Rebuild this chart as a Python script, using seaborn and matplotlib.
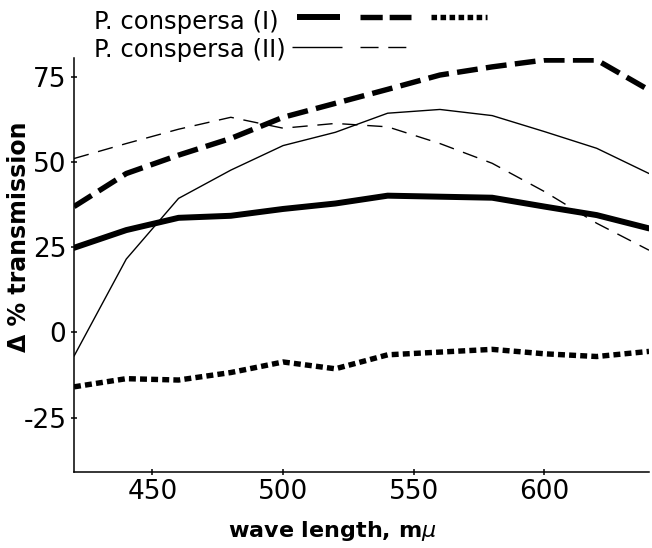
import numpy as np
import pandas as pd
import matplotlib
matplotlib.use("Agg")
import matplotlib.pyplot as plt
from matplotlib.lines import Line2D
import seaborn as sns

# wave length (m-mu) and delta % transmission
wave = [420, 440, 460, 480, 500, 520, 540, 560, 580, 600, 620, 640]
p1_solid = [24.8, 30.0, 33.6, 34.2, 36.2, 37.8, 40.1, 39.8, 39.5, 36.9, 34.4, 30.5]
p1_dashed = [36.9, 46.6, 52.0, 56.9, 63.1, 67.2, 71.3, 75.5, 77.9, 79.9, 79.9, 71.1]
p1_dotted = [-16.0, -13.6, -14.0, -11.8, -8.7, -10.7, -6.6, -5.8, -5.0, -6.3, -7.1, -5.6]
p2_solid = [-7.0, 21.5, 39.3, 47.6, 54.8, 58.7, 64.3, 65.4, 63.6, 58.9, 54.0, 46.6]
p2_dashed = [51.0, 55.4, 59.6, 63.1, 59.9, 61.3, 60.3, 55.4, 49.6, 41.3, 32.0, 24.1]

sns.set_style("ticks", {"axes.edgecolor": "black", "xtick.color": "black",
                        "ytick.color": "black", "text.color": "black",
                        "axes.labelcolor": "black"})
plt.rcParams["font.family"] = ["DejaVu Sans"]
plt.rcParams["lines.scale_dashes"] = False

W, H = 652, 548
fig = plt.figure(figsize=(W / 100, H / 100), dpi=100)
ax = fig.add_axes([74 / W, 76.3 / H, 575 / W, 413.7 / H])

styles = {
    "I solid": (p1_solid, 4.3, "-"),
    "I dashed": (p1_dashed, 3.9, (0, (15, 6))),
    "I dotted": (p1_dotted, 3.9, (0, (5, 3))),
    "II solid": (p2_solid, 1.0, "-"),
    "II dashed": (p2_dashed, 1.0, (0, (11, 7))),
}
for name, (vals, lw, ls) in styles.items():
    df = pd.DataFrame({"wave": wave, "val": vals})
    sns.lineplot(data=df, x="wave", y="val", ax=ax, color="black",
                 linewidth=lw, linestyle=ls)

ax.set_xlim(420, 640)
ax.set_ylim(-40.9, 80.5)
ax.set_xticks([450, 500, 550, 600])
ax.set_yticks([-25, 0, 25, 50, 75])
ax.set_yticklabels(["-25", "0", "25", "50", "75"])
sns.despine(ax=ax)
for s in ["left", "bottom"]:
    ax.spines[s].set_linewidth(1.1)
ax.tick_params(direction="inout", length=5, width=1.1, labelsize=19, pad=3,
               colors="black")

ax.set_xlabel(r"wave length, m$\mu$", fontsize=16, fontweight="bold", color="black")
ax.xaxis.set_label_coords(0.449, -0.115)
ax.set_ylabel("\u0394 % transmission", fontsize=17, fontweight="bold", color="black")
ax.yaxis.set_label_coords(-0.075, 0.567)

# legend drawn as text plus line samples at the top
def fx(x):
    return x / W

def fy(y):
    return 1 - y / H

fig.text(fx(94), fy(29.3), "P. conspersa (I)", fontsize=17.5, va="baseline", color="black")
fig.text(fx(94), fy(56.7), "P. conspersa (II)", fontsize=17.5, va="baseline", color="black")
samples = [
    (297, 340, 17, 4.3, "-"),
    (360, 411, 17, 3.9, (0, (16, 5))),
    (431, 487, 17, 3.9, (0, (4, 2.5))),
    (292, 342, 47, 1.0, "-"),
    (360, 406, 47, 1.0, (0, (13, 7))),
]
for x0, x1, y, lw, ls in samples:
    fig.add_artist(Line2D([fx(x0), fx(x1)], [fy(y), fy(y)], color="black",
                          linewidth=lw, linestyle=ls, solid_capstyle="butt",
                          dash_capstyle="butt"))

fig.savefig("out.png", dpi=100)
